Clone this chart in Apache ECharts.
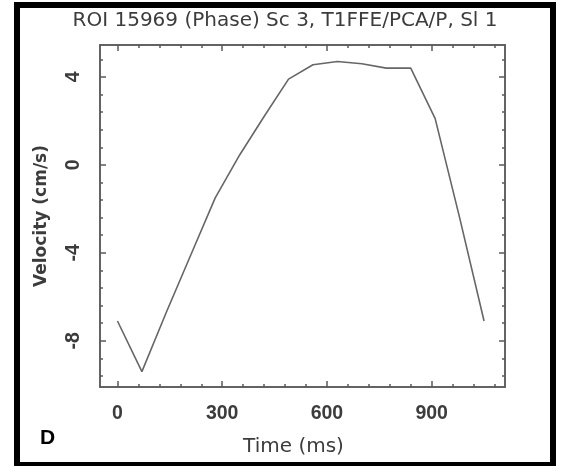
<!DOCTYPE html>
<html>
<head>
    <meta charset="utf-8"/>
    <title>ROI 15969 velocity</title>
    <script src="https://cdn.jsdelivr.net/npm/echarts@6/dist/echarts.min.js"></script>
    <style>
        html, body { margin: 0; padding: 0; background: #fff; }
        #chart { width: 563px; height: 466px; }
    </style>
</head>
<body>
<div id="chart"></div>
<script>
    // data
    var times = [0, 70, 140, 210, 280, 350, 420, 490, 560, 630, 700, 770, 840, 910, 980, 1050];
    var velocity = [-7.1, -9.4, -6.7, -4.1, -1.5, 0.45, 2.2, 3.9, 4.55, 4.7, 4.6, 4.4, 4.4, 2.1, -2.4, -7.1];
    var xMajor = [0, 300, 600, 900];
    var yMajor = [-8, -4, 0, 4];
    var xMinor = [];
    for (var i = 0; i <= 18; i++) xMinor.push(i * 60);
    var yMinor = [];
    for (var j = -12; j <= 6; j++) yMinor.push(Math.round(j * 0.8 * 10) / 10);

    var txt = '#3c3c3c';
    var frame = '#5a5a5a';
    var font = 'DejaVu Sans';
    var tickFont = 'Liberation Sans';

    function xAx(pos, ticks, len, withLabel) {
        return {
            type: 'value', position: pos, min: -50, max: 1110,
            splitLine: {show: false},
            axisLine: {show: true, onZero: false, lineStyle: {color: frame, width: 1.5}},
            axisTick: {show: true, inside: true, length: len, customValues: ticks,
                lineStyle: {color: frame, width: 1.5}},
            axisLabel: withLabel ? {show: true, customValues: xMajor, margin: 17,
                color: txt, fontSize: 19.5, fontWeight: 'bold', fontFamily: tickFont} : {show: false},
            name: withLabel ? 'Time (ms)' : '',
            nameLocation: 'middle', nameGap: 50,
            nameTextStyle: {color: txt, fontSize: 20, fontFamily: font, padding: [0, 18, 0, 0]}
        };
    }

    function yAx(pos, ticks, len, withLabel) {
        return {
            type: 'value', position: pos, min: -10.1, max: 5.45,
            splitLine: {show: false},
            axisLine: {show: true, onZero: false, lineStyle: {color: frame, width: 1.5}},
            axisTick: {show: true, inside: true, length: len, customValues: ticks,
                lineStyle: {color: frame, width: 1.5}},
            axisLabel: withLabel ? {show: true, customValues: yMajor, rotate: 90, margin: 16,
                color: txt, fontSize: 19.5, fontWeight: 'bold', fontFamily: tickFont} : {show: false},
            name: withLabel ? 'Velocity (cm/s)' : '',
            nameLocation: 'middle', nameGap: 50,
            nameTextStyle: {color: txt, fontSize: 17, fontWeight: 'bold', fontFamily: font}
        };
    }

    var chart = echarts.init(document.getElementById('chart'));
    var option = {
        backgroundColor: '#fff',
        animation: false,
        title: {
            text: 'ROI 15969 (Phase) Sc 3, T1FFE/PCA/P, Sl 1',
            left: 280, top: 6, textAlign: 'center',
            textStyle: {color: txt, fontSize: 20, fontWeight: 'normal', fontFamily: font}
        },
        grid: {left: 100, right: 58, top: 45, bottom: 79},
        xAxis: [
            xAx('bottom', xMajor, 6, true),
            xAx('bottom', xMinor, 3, false),
            xAx('top', xMajor, 6, false),
            xAx('top', xMinor, 3, false)
        ],
        yAxis: [
            yAx('left', yMajor, 6, true),
            yAx('left', yMinor, 3, false),
            yAx('right', yMajor, 6, false),
            yAx('right', yMinor, 3, false)
        ],
        graphic: [
            {type: 'rect', shape: {x: 17, y: 5, width: 536, height: 460},
                style: {fill: 'none', stroke: '#000', lineWidth: 6}},
            {type: 'text', left: 40, top: 428,
                style: {text: 'D', fill: '#000', font: 'bold 21px "Liberation Sans"'}}
        ],
        series: [{
            type: 'line',
            data: times.map(function (t, k) { return [t, velocity[k]]; }),
            showSymbol: false,
            lineStyle: {color: '#666', width: 1.6}
        }]
    };
    chart.setOption(option);
</script>
</body>
</html>
